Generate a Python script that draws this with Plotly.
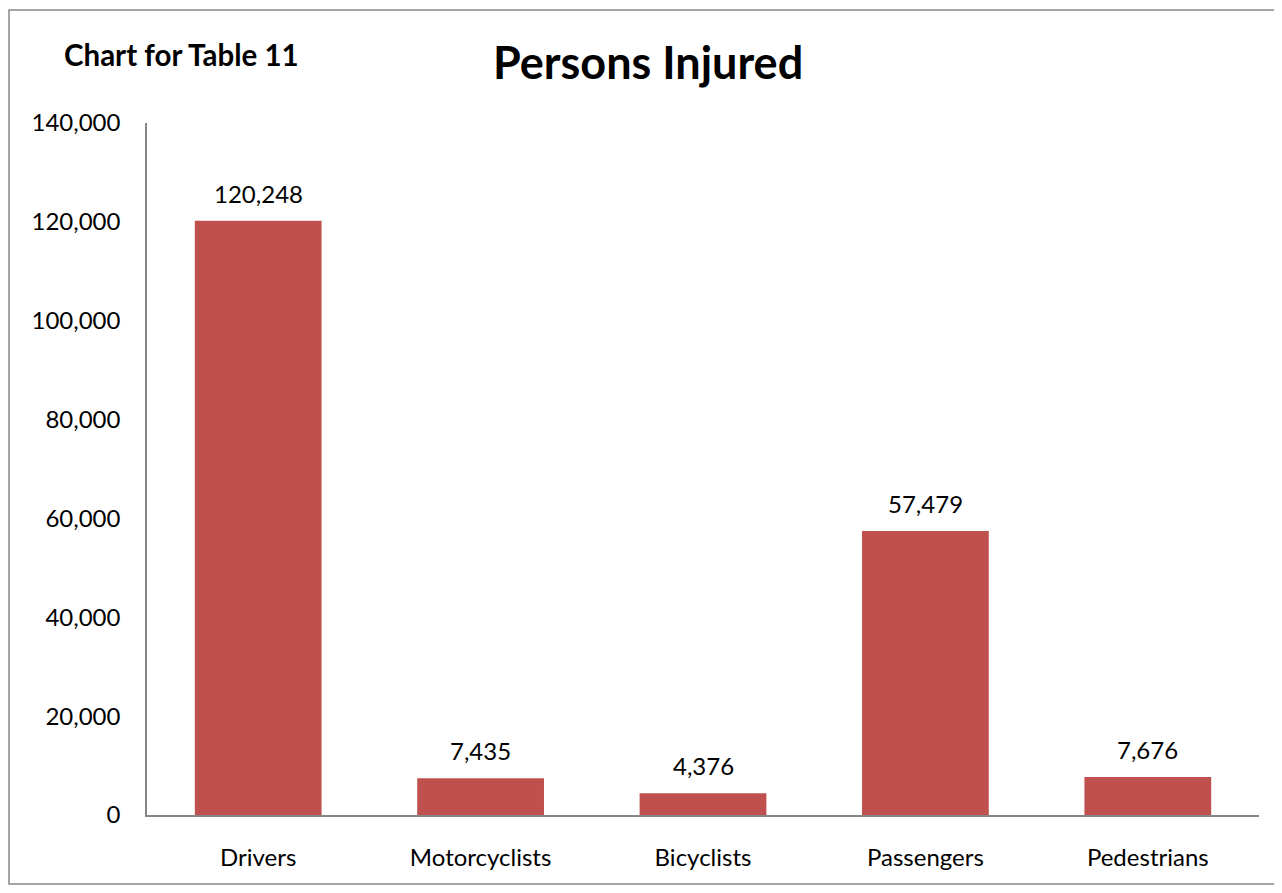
import plotly.graph_objects as go

categories = ["Drivers", "Motorcyclists", "Bicyclists", "Passengers", "Pedestrians"]
injured = [120248, 7435, 4376, 57479, 7676]
tick_values = [0, 20000, 40000, 60000, 80000, 100000, 120000, 140000]
tick_labels = ["0", "20,000", "40,000", "60,000", "80,000", "100,000", "120,000", "140,000"]

# page offset introduced by the browser's default body margin (8px on each side)
OFF = 8
PAGE_W, PAGE_H = 1282, 893
W, H = PAGE_W - OFF, PAGE_H - 2 * OFF
# plot area in page pixel coordinates (from reference)
PL, PR, PT, PB = 147, 1259, 123, 815
L, R, T, B = PL - OFF, (OFF + W) - PR, PT - OFF, (OFF + H) - PB
pw, ph = W - L - R, H - T - B

FONT = "Lato"
BAR = "#C0504D"
GRAY = "#868686"

fig = go.Figure()
fig.add_trace(go.Bar(x=categories, y=injured, marker=dict(color=BAR, line=dict(width=0)),
                     hoverinfo="x+y"))

for c, v in zip(categories, injured):
    fig.add_annotation(x=c, y=v, text=f"{v:,}", showarrow=False, yanchor="bottom",
                       yshift=11, font=dict(family=FONT, size=24, color="#000000"))

def px(xp):
    return (xp - PL) / pw

def py(yp):
    return (PB - yp) / ph

fig.add_shape(type="rect", xref="paper", yref="paper",
              x0=px(OFF + 1), x1=px(1279), y0=py(10), y1=py(OFF + H - 1),
              line=dict(color=GRAY, width=1.5), fillcolor="rgba(0,0,0,0)", layer="below")

fig.add_annotation(xref="paper", yref="paper", x=px(648), y=py(62), text="<b>Persons Injured</b>",
                   showarrow=False, xanchor="center", yanchor="middle",
                   font=dict(family=FONT, size=45, color="#000000"))
fig.add_annotation(xref="paper", yref="paper", x=px(62), y=py(54), text="<b>Chart for Table 11</b>",
                   showarrow=False, xanchor="left", yanchor="middle",
                   font=dict(family=FONT, size=29.5, color="#000000"))

fig.update_layout(
    width=W, height=H,
    margin=dict(l=L, r=R, t=T, b=B, autoexpand=False),
    paper_bgcolor="white", plot_bgcolor="white",
    bargap=0.43, showlegend=False,
    font=dict(family=FONT, size=24, color="#000000"),
)
fig.update_xaxes(showline=True, linecolor=GRAY, linewidth=1.5, showgrid=False,
                 ticks="", ticklabelstandoff=20, tickfont=dict(family=FONT, size=24))
fig.update_yaxes(range=[0, 140000], tickvals=tick_values, ticktext=tick_labels,
                 showline=True, linecolor=GRAY, linewidth=1.5, showgrid=False,
                 zeroline=False, ticks="", ticklabelstandoff=20,
                 tickfont=dict(family=FONT, size=24))

fig.write_html("out.html")
